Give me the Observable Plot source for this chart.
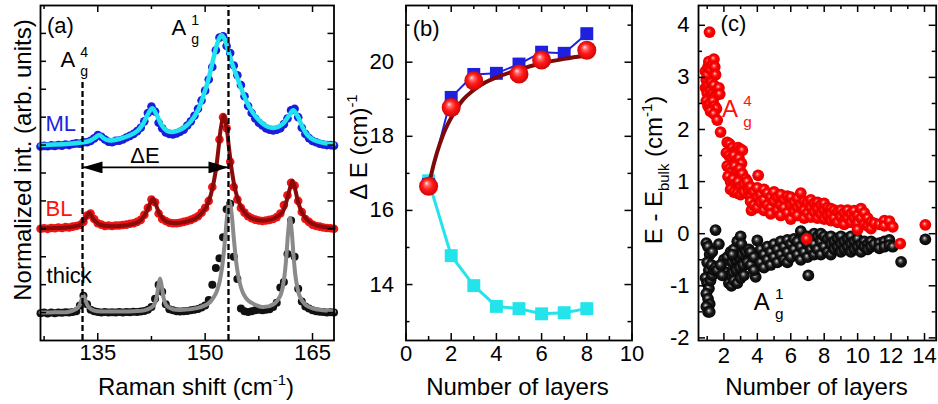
<!DOCTYPE html>
<html><head><meta charset="utf-8">
<script src="https://cdn.jsdelivr.net/npm/d3@7"></script>
<script src="https://cdn.jsdelivr.net/npm/@observablehq/plot@0.6"></script>
<style>
body{margin:0;background:#fff;}
#wrap{position:relative;width:938px;height:404px;overflow:hidden;background:#fff;}
#wrap svg{position:absolute;top:0;}
</style></head><body><div id="wrap"></div>
<script>
const FONT = '"Liberation Sans", Arial, Helvetica, sans-serif';

// ---------- Panel (a): Raman spectra ----------
const shiftStart = 127, shiftStep = 0.5;   // measured Raman shift grid (cm-1)
const mlDots = [6.95,6.97,6.96,6.99,6.97,7.00,6.98,7.02,7.00,7.04,
 7.06,7.05,7.10,7.10,7.15,7.24,7.36,7.30,7.20,7.12,
 7.10,7.15,7.16,7.20,7.27,7.33,7.40,7.50,7.62,7.85,
 8.15,8.38,8.20,7.80,7.60,7.45,7.40,7.38,7.42,7.48,
 7.55,7.70,7.85,8.05,8.30,8.60,8.95,9.35,9.80,10.40,
 10.85,10.90,10.55,10.30,9.85,9.50,9.15,8.75,8.40,8.15,
 7.95,7.80,7.70,7.60,7.55,7.52,7.55,7.60,7.75,7.95,
 8.25,8.30,8.00,7.62,7.40,7.25,7.15,7.10,7.05,7.02,
 7.00,7.00,6.98];
const blDots = [4.00,4.02,4.00,4.03,4.02,4.05,4.03,4.06,4.05,4.08,
 4.10,4.14,4.25,4.48,4.55,4.35,4.20,4.15,4.10,4.12,
 4.10,4.12,4.12,4.14,4.15,4.18,4.20,4.25,4.32,4.50,
 4.75,5.05,4.95,4.55,4.35,4.28,4.22,4.20,4.20,4.22,
 4.25,4.28,4.32,4.38,4.45,4.58,4.75,5.00,5.50,6.20,
 7.20,8.00,7.60,6.40,5.50,5.05,4.75,4.58,4.45,4.38,
 4.33,4.30,4.28,4.30,4.32,4.35,4.42,4.55,4.85,5.20,
 5.65,5.55,5.00,4.60,4.35,4.25,4.15,4.10,4.08,4.05,
 4.03,4.02,4.00];
const thickDots = [0.98,1.00,0.97,1.00,0.98,1.00,0.99,1.01,1.00,1.02,
 1.05,1.25,1.60,1.30,1.10,1.05,1.02,1.00,1.02,1.00,
 1.01,1.00,1.02,1.00,1.02,1.01,1.03,1.02,1.04,1.06,
 1.10,1.20,1.50,2.00,1.75,1.30,1.12,1.08,1.05,1.04,
 1.05,1.06,1.08,1.10,1.13,1.18,1.25,1.45,2.00,2.60,
 2.95,3.70,4.70,4.90,3.00,2.20,1.15,1.05,1.02,1.05,
 1.08,1.10,1.08,1.10,1.12,1.20,1.35,1.90,2.10,3.10,
 4.30,3.00,1.85,1.40,1.22,1.15,1.08,1.05,1.03,1.02,
 1.00,1.01,1.00];
const mlFit = [[127,7.0],[129,7.02],[131,7.05],[133,7.1],[134,7.17],[134.7,7.28],[135.2,7.36],[135.8,7.25],
 [136.5,7.17],[138,7.22],[139.5,7.35],[140.5,7.5],[141.3,7.75],[142,8.1],[142.6,8.32],[143.2,8.1],
 [143.9,7.72],[144.6,7.52],[145.3,7.47],[146,7.5],[147,7.62],[148,7.85],[149,8.25],[149.8,8.8],
 [150.5,9.4],[151.1,10.05],[151.6,10.55],[152,10.85],[152.3,10.93],[152.7,10.8],[153.2,10.4],
 [153.8,9.9],[154.5,9.4],[155.3,8.85],[156.2,8.35],[157.2,7.98],[158.3,7.72],[159.3,7.62],
 [160.2,7.65],[161,7.8],[161.7,8.05],[162.3,8.25],[162.9,8.05],[163.6,7.65],[164.3,7.35],
 [165.2,7.18],[166.5,7.08],[168,7.03]];
const blFit = [[127,4.02],[129,4.03],[131,4.06],[132.5,4.14],[133.2,4.32],[133.8,4.58],[134.4,4.35],
 [135.2,4.16],[136.5,4.1],[138,4.1],[139.5,4.15],[140.8,4.27],[141.7,4.55],[142.3,4.9],[142.7,5.08],
 [143.1,4.88],[143.7,4.5],[144.5,4.27],[146,4.2],[148,4.3],[149,4.43],[150,4.72],[150.5,4.99],
 [151,5.43],[151.5,6.12],[151.9,6.96],[152.2,7.62],[152.6,8.06],[153,7.62],[153.3,6.97],[153.7,6.13],
 [154.2,5.4],[154.7,4.97],[155.2,4.7],[156,4.45],[157,4.33],[158,4.3],[159,4.32],[160,4.42],
 [160.8,4.6],[161.4,5.02],[161.9,5.5],[162.2,5.72],[162.5,5.5],[163,4.95],[163.6,4.55],[164.4,4.28],
 [165.5,4.12],[167,4.05],[168,4.03]];
const thickFit = [[127,1.0],[129,1.01],[131,1.03],[132.3,1.2],[132.7,1.43],[133,1.62],[133.3,1.43],
 [133.7,1.2],[134.5,1.07],[136,1.04],[138,1.04],[140,1.05],[141.5,1.08],[142.8,1.25],[143.2,1.52],
 [143.45,1.92],[143.7,2.22],[143.95,1.92],[144.2,1.52],[144.6,1.25],[145.5,1.12],[147,1.1],[149,1.17],
 [150.5,1.34],[151.5,1.69],[152,2.09],[152.4,2.69],[152.8,3.67],[153.1,4.54],[153.4,4.98],[153.7,4.54],
 [154,3.67],[154.4,2.69],[154.8,2.1],[155.3,1.7],[156,1.43],[157,1.28],[158,1.2],[159.5,1.29],
 [160.5,1.61],[161,2.17],[161.3,2.87],[161.6,3.9],[161.85,4.4],[162.1,3.9],[162.4,2.87],[162.7,2.16],
 [163.2,1.59],[164,1.28],[165,1.15],[166.5,1.08],[168,1.04]];
const peakLines = [{shift:132.87, bottom:0, top:9.3}, {shift:153.26, bottom:0, top:12}];
const deltaArrow = [{from:132.87, to:153.26, level:6.2}];
const labelsA = [
  {t:"(a)", x:127.9, y:11.28, c:"#000"},
  {t:"ML", x:127.7, y:7.75, c:"#2222e0"},
  {t:"BL", x:127.7, y:4.73, c:"#ff1010"},
  {t:"thick", x:127.85, y:2.33, c:"#000"}
];
const deltaLabel = [{t:"ΔE", x:141.6, y:6.62}];
const xTicksA = [135,150,165], xMinorA = [127.5,142.5,157.5], yTicksA = [1,2,3,4,5,6,7,8,9,10,11];

// ---------- Panel (b): ΔE vs layers ----------
const layersB = [1,2,3,4,5,6,7,8];
const dEBlue = [16.7,19.05,19.67,19.7,19.95,20.27,20.24,20.77];
const dECyan = [16.8,14.78,13.97,13.41,13.35,13.21,13.24,13.35];
const layersRed = [1,2,3,5,6,8];
const dERed = [16.65,18.78,19.5,19.68,20.06,20.32];
const fitLayers = [1,1.25,1.5,1.75,2,2.5,3,3.5,4,5,6,7,8];
const fitDE = [16.65,17.3,17.8,18.2,18.5,18.97,19.25,19.45,19.59,19.8,19.97,20.09,20.18];
const xTicksB = [0,2,4,6,8,10], xMinorB = [1,3,5,7,9], yTicksB = [14,16,18,20], yMinorB = [13,15,17,19,21];

// ---------- Panel (c): E - Ebulk vs layers ----------
const ag4 = [[1.14,3.87],
 [0.9,3.12],[0.95,2.95],[1.0,3.05],[1.05,3.2],[1.1,3.3],[1.2,3.15],[1.3,3.25],[1.4,3.35],[1.45,3.2],[1.5,3.05],
 [0.9,2.8],[1.0,2.7],[1.05,2.85],[1.1,2.6],[1.2,2.75],[1.25,2.9],[1.35,2.7],[1.4,2.85],[1.5,2.65],[1.6,2.75],[1.7,2.8],[1.75,2.68],
 [0.95,2.55],[1.05,2.45],[1.15,2.5],[1.25,2.4],[1.35,2.55],[1.45,2.45],[1.55,2.4],[1.2,2.35],[1.4,2.3],
 [1.6,2.18],[1.8,1.95],
 [2.2,1.75],[2.35,1.72],[2.5,1.65],[2.7,1.6],[2.85,1.65],[3.0,1.62],[3.1,1.6],
 [2.15,1.55],[2.3,1.5],[2.45,1.45],[2.6,1.5],[2.75,1.4],[2.9,1.45],[3.05,1.35],
 [2.2,1.3],[2.35,1.25],[2.5,1.2],[2.65,1.3],[2.8,1.2],[2.95,1.25],[3.1,1.15],[3.3,1.05],
 [2.25,1.1],[2.4,1.0],[2.55,1.05],[2.7,0.95],[2.85,1.0],[3.0,0.9],[3.2,0.95],[3.4,1.0],
 [2.4,0.85],[2.6,0.8],[2.8,0.78],[3.0,0.75],[3.2,0.8],[3.45,0.85],[3.6,0.7],
 [4.05,1.12],
 [3.6,0.9],[3.6,0.62],[3.65,0.45],[3.8,0.8],[3.8,0.55],[4.0,0.88],[4.0,0.7],[4.0,0.5],[4.2,0.75],[4.2,0.6],
 [4.4,0.85],[4.4,0.65],[4.4,0.45],[4.6,0.78],[4.6,0.55],[4.8,0.7],[4.8,0.5],[4.8,0.38],[5.0,0.8],[5.0,0.62],
 [5.2,0.7],[5.2,0.45],[5.4,0.75],[5.4,0.55],[5.4,0.35],[5.6,0.65],[5.6,0.5],[5.8,0.72],[5.8,0.4],
 [6.0,0.7],[6.0,0.55],[6.0,0.28],[6.2,0.6],[6.2,0.42],[6.4,0.68],[6.4,0.5],[6.4,0.35],[6.6,0.78],[6.6,0.55],
 [6.8,0.62],[6.8,0.45],[6.8,0.3],[7.0,0.6],[7.0,0.4],[7.2,0.65],[7.2,0.5],[7.2,0.32],[7.4,0.58],[7.4,0.42],
 [7.6,0.6],[7.6,0.48],[7.6,0.3],[7.8,0.55],[7.8,0.38],[8.0,0.58],[8.0,0.45],[8.0,0.28],[8.2,0.5],[8.2,0.35],
 [8.4,0.48],[8.4,0.38],[8.4,0.25],[8.6,0.45],[8.6,0.3],[8.8,0.42],[8.8,0.22],[9.0,0.45],[9.0,0.32],
 [9.2,0.4],[9.2,0.25],[9.2,0.18],[9.4,0.45],[9.4,0.3],[9.6,0.38],[9.6,0.22],[9.8,0.44],[9.8,0.3],
 [10.0,0.35],[10.0,0.2],[10.0,0.08],[10.2,0.48],[10.2,0.3],[10.4,0.4],[10.4,0.18],[10.6,0.3],[10.6,0.15],
 [10.8,0.22],[10.8,0.1],[11.0,0.2],[11.3,0.18],[11.6,0.25],[11.6,0.15],[11.9,0.24],[12.1,0.13],
 [6.95,-0.1],[12.55,-0.19],[14.05,0.17]];
const ag1 = [[1.5,0.07],[0.95,-0.18],[1.05,-0.25],[1.15,-0.4],[1.0,-0.55],[1.1,-0.7],[1.25,-0.6],[0.9,-0.85],
 [1.0,-0.95],[1.1,-1.05],[1.2,-0.9],[0.95,-1.15],[1.05,-1.25],[1.15,-1.35],[0.95,-1.4],[1.05,-1.5],[1.15,-1.5],
 [1.3,-0.8],[1.4,-0.7],[1.5,-0.65],[1.6,-0.7],[1.7,-0.2],[1.3,-0.35],
 [2.0,-0.5],[2.2,-0.45],[2.4,-0.35],[2.6,-0.3],[2.8,-0.15],[3.0,-0.05],[3.05,-0.2],
 [2.1,-0.6],[2.3,-0.65],[2.5,-0.55],[2.7,-0.5],[2.9,-0.45],[3.1,-0.4],[3.3,-0.35],[3.5,-0.3],
 [2.15,-0.75],[2.35,-0.8],[2.55,-0.75],[2.75,-0.7],[2.95,-0.65],[3.15,-0.6],[3.4,-0.55],
 [2.3,-0.95],[2.45,-1.0],[2.6,-0.9],[2.8,-0.95],[3.0,-0.85],[3.2,-0.8],[2.5,-0.4],[1.9,-0.8],[1.8,-0.6],
 [3.9,-0.83],[4.0,-0.13],
 [3.6,-0.35],[3.6,-0.6],[3.8,-0.45],[3.8,-0.7],[4.2,-0.3],[4.2,-0.55],[4.4,-0.4],[4.4,-0.65],[4.6,-0.25],[4.6,-0.5],
 [4.8,-0.35],[4.8,-0.6],[5.0,-0.2],[5.0,-0.45],[5.2,-0.3],[5.2,-0.55],[5.4,-0.15],[5.4,-0.4],[5.6,-0.25],[5.6,-0.5],
 [5.8,-0.12],[5.8,-0.35],[5.8,-0.55],[6.0,-0.2],[6.0,-0.45],[6.2,-0.1],[6.2,-0.3],[6.4,-0.15],[6.4,-0.4],
 [6.6,0.05],[6.6,-0.25],[6.6,-0.5],[6.8,-0.1],[6.8,-0.35],[7.0,-0.05],[7.0,-0.2],[7.0,-0.45],[7.2,-0.1],[7.2,-0.3],
 [7.4,0.0],[7.4,-0.2],[7.4,-0.4],[7.6,-0.05],[7.6,-0.3],[7.8,0.0],[7.8,-0.15],[7.8,-0.4],[8.0,-0.05],[8.0,-0.25],
 [8.2,-0.1],[8.2,-0.35],[8.4,-0.05],[8.4,-0.2],[8.4,-0.4],[8.6,-0.15],[8.6,-0.3],[8.8,-0.1],[8.8,-0.25],
 [9.0,-0.05],[9.0,-0.2],[9.0,-0.35],[9.2,-0.15],[9.2,-0.3],[9.4,-0.1],[9.4,-0.25],[9.6,-0.05],[9.6,-0.2],[9.6,-0.35],
 [9.8,-0.15],[9.8,-0.3],[10.0,-0.1],[10.0,-0.25],[10.2,-0.2],[10.2,-0.35],[10.4,-0.15],[10.4,-0.25],
 [10.6,-0.2],[10.6,-0.3],[10.8,-0.15],[10.8,-0.25],[11.0,-0.2],[11.3,-0.18],[11.3,-0.28],[11.6,-0.15],[11.6,-0.25],
 [11.9,-0.12],[11.9,-0.22],[12.1,-0.25],
 [7.05,-0.8],[12.6,-0.54],[14.05,-0.11]];
const xTicksC = [2,4,6,8,10,12,14], xMinorC = [1,3,5,7,9,11,13];
const yTicksC = [-2,-1,0,1,2,3,4], yMinorC = [-1.5,-0.5,0.5,1.5,2.5,3.5];

// ---------- helpers ----------
function frameTicks(xMaj, xMin, yMaj, yMin, fw, fh, L = 7, S = 4) {
  const o = {stroke: "#000", strokeWidth: 1.5};
  const m = [];
  for (const [vals, len] of [[xMaj, L], [xMin, S]]) {
    if (!vals.length) continue;
    m.push(Plot.tickX(vals, {x: d => d, insetTop: fh - len, ...o}));
    m.push(Plot.tickX(vals, {x: d => d, insetBottom: fh - len, ...o}));
  }
  for (const [vals, len] of [[yMaj, L], [yMin, S]]) {
    if (!vals.length) continue;
    m.push(Plot.tickY(vals, {y: d => d, insetRight: fw - len, ...o}));
    m.push(Plot.tickY(vals, {y: d => d, insetLeft: fw - len, ...o}));
  }
  return m;
}
function rich(svg, x, y, parts, {size = 24, fill = "#000", anchor = "middle", rotate = 0} = {}) {
  const t = d3.select(svg).append("text")
    .attr("transform", `translate(${x},${y}) rotate(${rotate})`)
    .attr("text-anchor", anchor).attr("font-family", FONT)
    .attr("font-size", size).attr("fill", fill);
  let cur = 0;
  for (const p of parts) {
    const shift = p.sup ? -0.42 * size : p.sub ? 0.3 * size : 0;
    const ts = t.append("tspan").attr("dy", shift - cur).text(p.t);
    if (p.sup || p.sub) ts.attr("font-size", size * 0.62);
    cur = shift;
  }
  return t;
}
function addAg(svg, x, y, sup, size, fill) {
  const g = d3.select(svg).append("g").attr("font-family", FONT).attr("fill", fill);
  const a = g.append("text").attr("x", x).attr("y", y).attr("font-size", size).text("A");
  const w = a.node().getComputedTextLength();
  g.append("text").attr("x", x + w + 1.5).attr("y", y - size * 0.45).attr("font-size", size * 0.64).text(sup);
  g.append("text").attr("x", x + w + 1.5).attr("y", y + 0.4 * size).attr("font-size", size * 0.64).text("g");
}
function addDefs(svg, html) {
  const d = d3.select(svg).insert("defs", ":first-child");
  d.html(html);
}
const style = {fontFamily: FONT, background: "transparent", overflow: "visible"};
const wrap = document.getElementById("wrap");
const toPts = arr => arr.map((v, i) => ({x: shiftStart + i * shiftStep, y: v}));
const line2 = (arr, o) => Plot.line(arr, {x: d => d[0], y: d => d[1], curve: "catmull-rom", ...o});

// ---------- Panel (a) ----------
const fwA = 293.5, fhA = 335;
const chartA = Plot.plot({
  width: 340, height: 404, marginLeft: 40, marginRight: 6.5, marginTop: 5, marginBottom: 64,
  x: {domain: [127, 168], axis: null}, y: {domain: [0, 12], axis: null}, style,
  marks: [
    Plot.dot(toPts(mlDots), {x: "x", y: "y", r: 4.3, fill: "#1c1cdc"}),
    line2(mlFit, {stroke: "#1fe3ee", strokeWidth: 4.5}),
    Plot.dot(toPts(blDots), {x: "x", y: "y", r: 4.3, fill: "#f01414"}),
    line2(blFit, {stroke: "#8b0a0a", strokeWidth: 4}),
    Plot.dot(toPts(thickDots), {x: "x", y: "y", r: 4, fill: "#111"}),
    line2(thickFit, {stroke: "#8a8a8a", strokeWidth: 4}),
    Plot.ruleX(peakLines, {x: "shift", y1: "bottom", y2: "top", stroke: "#000", strokeWidth: 2.3, strokeDasharray: "6,3"}),
    Plot.link(deltaArrow, {x1: "from", x2: "to", y1: "level", y2: "level", stroke: "#000", strokeWidth: 1.6}),
    Plot.text(labelsA, {x: "x", y: "y", text: "t", fill: "c", textAnchor: "start", fontSize: 22}),
    Plot.text(deltaLabel, {x: "x", y: "y", text: "t", fill: "#000", fontSize: 22}),
    ...frameTicks(xTicksA, xMinorA, yTicksA, [], fwA, fhA, 7, 4).slice(0, 4),
    Plot.tickY(yTicksA, {y: d => d, insetRight: fwA - 6, stroke: "#000", strokeWidth: 1.5}),
    Plot.tickY(yTicksA, {y: d => d, insetLeft: fwA - 6, stroke: "#000", strokeWidth: 1.5}),
    Plot.text(xTicksA, {x: d => d, frameAnchor: "bottom", dy: 19, text: d => String(d), fontSize: 22}),
    Plot.frame({stroke: "#000", strokeWidth: 1.8})
  ]
});
chartA.style.left = "0px";
wrap.appendChild(chartA);

// ---------- Panel (b) ----------
const fwB = 226, fhB = 335;
const chartB = Plot.plot({
  width: 300, height: 404, marginLeft: 65.5, marginRight: 8.5, marginTop: 5, marginBottom: 64,
  x: {domain: [0, 10], axis: null}, y: {domain: [12.49, 21.53], axis: null}, style,
  marks: [
    Plot.line(layersB, {x: d => d, y: (d, i) => dECyan[i], stroke: "#22e4ea", strokeWidth: 3}),
    Plot.dot(layersB, {x: d => d, y: (d, i) => dECyan[i], symbol: "square", r: 7.3, fill: "#22e4ea"}),
    Plot.line(layersB, {x: d => d, y: (d, i) => dEBlue[i], stroke: "#1f1fe0", strokeWidth: 2}),
    Plot.dot(layersB, {x: d => d, y: (d, i) => dEBlue[i], symbol: "square", r: 7.3, fill: "#1f1fe0"}),
    Plot.line(fitLayers, {x: d => d, y: (d, i) => fitDE[i], stroke: "#7d0a0a", strokeWidth: 4, curve: "catmull-rom"}),
    Plot.dot(layersRed, {x: d => d, y: (d, i) => dERed[i], r: 9.5, fill: "url(#sphB)"}),
    Plot.text(["(b)"], {x: 0.3, y: 20.9, text: d => d, textAnchor: "start", fontSize: 22}),
    ...frameTicks(xTicksB, xMinorB, yTicksB, yMinorB, fwB, fhB),
    Plot.text(xTicksB, {x: d => d, frameAnchor: "bottom", dy: 20, text: d => String(d), fontSize: 22}),
    Plot.text(yTicksB, {y: d => d, frameAnchor: "left", dx: -12, textAnchor: "end", text: d => String(d), fontSize: 22}),
    Plot.frame({stroke: "#000", strokeWidth: 1.8})
  ]
});
chartB.style.left = "340px";
wrap.appendChild(chartB);

// ---------- Panel (c) ----------
const fwC = 237.7, fhC = 335;
const chartC = Plot.plot({
  width: 298, height: 404, marginLeft: 58, marginRight: 2.3, marginTop: 5, marginBottom: 64,
  x: {domain: [0.48, 14.7], axis: null}, y: {domain: [-2.05, 4.38], axis: null}, style,
  marks: [
    Plot.dot(ag1, {x: d => d[0], y: d => d[1], r: 5.9, fill: "url(#ballK)"}),
    Plot.dot(ag4, {x: d => d[0], y: d => d[1], r: 5.9, fill: "url(#ballR)"}),
    Plot.text(["(c)"], {x: 1.8, y: 4.02, text: d => d, textAnchor: "start", fontSize: 22}),
    ...frameTicks(xTicksC, xMinorC, yTicksC, yMinorC, fwC, fhC),
    Plot.text(xTicksC, {x: d => d, frameAnchor: "bottom", dy: 22, text: d => String(d), fontSize: 22}),
    Plot.text(yTicksC, {y: d => d, frameAnchor: "left", dx: -9, textAnchor: "end", text: d => String(d), fontSize: 22}),
    Plot.frame({stroke: "#000", strokeWidth: 1.8})
  ]
});
chartC.style.left = "640px";
wrap.appendChild(chartC);

// ---------- decorations: gradients, arrowheads, rich text ----------
addDefs(chartA, `<marker id="ahead" viewBox="0 0 20 12" refX="20" refY="6" markerWidth="20" markerHeight="12" markerUnits="userSpaceOnUse" orient="auto-start-reverse"><path d="M0,0L20,6L0,12Z" fill="#000"/></marker>`);
d3.select(chartA).selectAll('g[aria-label="link"] path').attr("marker-start", "url(#ahead)").attr("marker-end", "url(#ahead)");
addDefs(chartB, `<radialGradient id="sphB" cx="0.5" cy="0.5" r="0.55" fx="0.38" fy="0.32">
  <stop offset="0" stop-color="#ffe2e2"/><stop offset="0.22" stop-color="#ff6a6a"/>
  <stop offset="0.5" stop-color="#ff1a1a"/><stop offset="1" stop-color="#c80000"/></radialGradient>`);
addDefs(chartC, `<radialGradient id="ballR" cx="0.5" cy="0.5" r="0.55" fx="0.42" fy="0.38">
  <stop offset="0" stop-color="#ffe0e0"/><stop offset="0.2" stop-color="#ff4a4a"/>
  <stop offset="0.45" stop-color="#ff0000"/><stop offset="1" stop-color="#e00000"/></radialGradient>
  <radialGradient id="ballK" cx="0.5" cy="0.5" r="0.55" fx="0.42" fy="0.38">
  <stop offset="0" stop-color="#e8e8e8"/><stop offset="0.18" stop-color="#777"/>
  <stop offset="0.45" stop-color="#1a1a1a"/><stop offset="1" stop-color="#000"/></radialGradient>`);

const sxA = chartA.scale("x"), syA = chartA.scale("y");
addAg(chartA, sxA.apply(130.9), syA.apply(9.78), "4", 22, "#000");
addAg(chartA, sxA.apply(146.4), syA.apply(10.92), "1", 22, "#000");
const sxC = chartC.scale("x"), syC = chartC.scale("y");
addAg(chartC, sxC.apply(2.39), syC.apply(2.23), "4", 24, "#ff1010");
addAg(chartC, sxC.apply(4.29), syC.apply(-1.47), "1", 24, "#000");

rich(chartA, 31, 160, [{t: "Normalized int. (arb. units)"}], {size: 24, rotate: -90});
rich(chartA, 196, 395, [{t: "Raman shift (cm"}, {t: "-1", sup: true}, {t: ")"}], {size: 24});
rich(chartB, 27, 147, [{t: "Δ E (cm)"}, {t: "-1", sup: true}], {size: 24, rotate: -90});
rich(chartB, 177.5, 395, [{t: "Number of layers"}], {size: 24});
rich(chartC, 22, 170, [{t: "E - E"}, {t: "bulk", sub: true}, {t: " (cm"}, {t: "-1", sup: true}, {t: ")"}], {size: 24, rotate: -90});
rich(chartC, 176.5, 395, [{t: "Number of layers"}], {size: 24});
</script>
</body></html>
